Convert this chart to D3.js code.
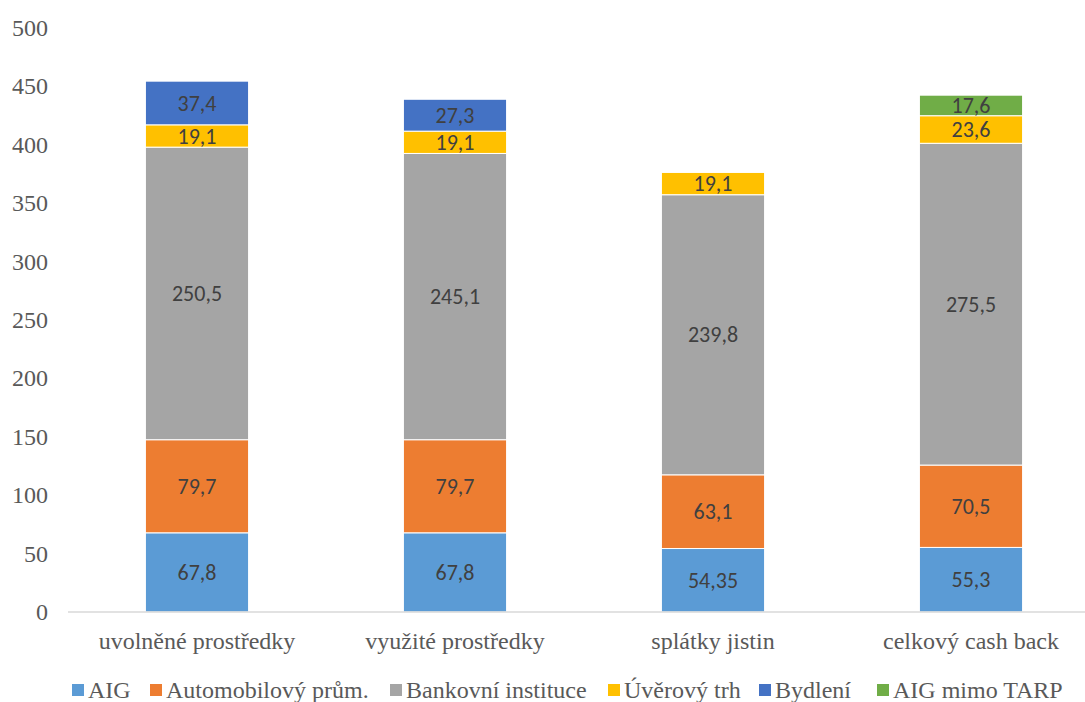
<!DOCTYPE html>
<html>
<head>
<meta charset="utf-8">
<script src="https://cdn.jsdelivr.net/npm/d3@7"></script>
<style>
	body { margin: 0; background: #fff; }
	svg { display: block; }
</style>
</head>
<body>
<svg id="chart" width="1085" height="702"></svg>
<script>
// data
var categories = ["uvolněné prostředky", "využité prostředky", "splátky jistin", "celkový cash back"];
var seriesNames = ["AIG", "Automobilový prům.", "Bankovní instituce", "Úvěrový trh", "Bydlení", "AIG mimo TARP"];
var seriesColors = ["#5b9bd5", "#ed7d31", "#a5a5a5", "#ffc000", "#4472c4", "#70ad47"];
var aig = [67.8, 67.8, 54.35, 55.3];
var auto = [79.7, 79.7, 63.1, 70.5];
var banky = [250.5, 245.1, 239.8, 275.5];
var uver = [19.1, 19.1, 19.1, 23.6];
var bydleni = [37.4, 27.3, 0, 0];
var aigMimo = [0, 0, 0, 17.6];
var yTicks = [0, 50, 100, 150, 200, 250, 300, 350, 400, 450, 500];

var allSeries = [aig, auto, banky, uver, bydleni, aigMimo];

var serifFont = "'Liberation Serif'";
var labelFont = "'Carlito'";

var svg = d3.select("#chart");
var margin = {top: 28, right: -15, bottom: 90, left: 68};
var width = 1085 - margin.left - margin.right;
var height = 702 - margin.top - margin.bottom;

var g = svg.append("g").attr("transform", "translate(" + margin.left + "," + margin.top + ")");

var xScale = d3.scaleBand()
	.domain(categories)
	.range([0, width])
	.paddingInner(0.6)
	.paddingOuter(0.3);

var yScale = d3.scaleLinear()
	.domain([0, 500])
	.range([height, 0]);

// tabulka pro stack
var table = categories.map(function(c, i) {
	var row = {cat: c};
	seriesNames.forEach(function(s, j) { row[s] = allSeries[j][i]; });
	return row;
});

var stacked = d3.stack().keys(seriesNames)(table);

// osa y
g.selectAll(".ytick")
	.data(yTicks)
	.enter()
	.append("text")
	.attr("x", -20)
	.attr("y", function(d) { return yScale(d); })
	.attr("dy", "0.33em")
	.attr("text-anchor", "end")
	.style("font-family", serifFont)
	.style("font-size", "24px")
	.style("fill", "#595959")
	.text(function(d) { return d; });

// sloupce
var layers = g.selectAll(".layer")
	.data(stacked)
	.enter()
	.append("g")
	.style("fill", function(d, i) { return seriesColors[i]; });

layers.selectAll("rect")
	.data(function(d) { return d.filter(function(p) { return p[1] - p[0] > 0; }); })
	.enter()
	.append("rect")
	.attr("x", function(d) { return xScale(d.data.cat); })
	.attr("y", function(d) { return yScale(d[1]); })
	.attr("width", xScale.bandwidth())
	.attr("height", function(d) { return yScale(d[0]) - yScale(d[1]); })
	.style("stroke", "#fff")
	.style("stroke-width", 1);

// popisky hodnot
layers.selectAll("text")
	.data(function(d) { return d.filter(function(p) { return p[1] - p[0] > 0; }); })
	.enter()
	.append("text")
	.attr("x", function(d) { return xScale(d.data.cat) + xScale.bandwidth() / 2; })
	.attr("y", function(d) { return (yScale(d[0]) + yScale(d[1])) / 2; })
	.attr("dy", "0.35em")
	.attr("text-anchor", "middle")
	.style("font-family", labelFont)
	.style("font-size", "22px")
	.style("fill", "#404040")
	.text(function(d) { return String(+(d[1] - d[0]).toFixed(2)).replace(".", ","); });

// osa x
g.append("line")
	.attr("x1", 0)
	.attr("x2", width)
	.attr("y1", height)
	.attr("y2", height)
	.style("stroke", "#d9d9d9")
	.style("stroke-width", 1.5);

g.selectAll(".xlabel")
	.data(categories)
	.enter()
	.append("text")
	.attr("x", function(d) { return xScale(d) + xScale.bandwidth() / 2; })
	.attr("y", height + 29)
	.attr("dy", "0.33em")
	.attr("text-anchor", "middle")
	.style("font-family", serifFont)
	.style("font-size", "24px")
	.style("fill", "#595959")
	.text(function(d) { return d; });

// legenda
var legendX = [72, 150, 390, 608, 759, 877];
var legend = svg.selectAll(".legend")
	.data(seriesNames)
	.enter()
	.append("g")
	.attr("transform", function(d, i) { return "translate(" + legendX[i] + ",690)"; });

legend.append("rect")
	.attr("x", 0)
	.attr("y", -6)
	.attr("width", 12)
	.attr("height", 12)
	.style("fill", function(d, i) { return seriesColors[i]; });

legend.append("text")
	.attr("x", 16)
	.attr("y", 0)
	.attr("dy", "0.33em")
	.style("font-family", serifFont)
	.style("font-size", "24px")
	.style("fill", "#595959")
	.text(function(d) { return d; });
</script>
</body>
</html>
